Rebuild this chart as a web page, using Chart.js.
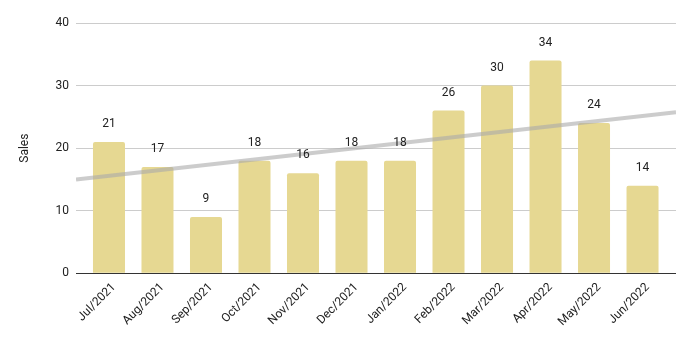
<!DOCTYPE html>
<html><head><meta charset="utf-8">
<script src="https://cdn.jsdelivr.net/npm/chart.js@4"></script>
<style>html,body{margin:0;padding:0;background:#fff}#wrap{width:693px;height:338px}</style>
</head><body><div id="wrap"><canvas id="c"></canvas></div>
<script>
const categories = ['Jul/2021','Aug/2021','Sep/2021','Oct/2021','Nov/2021','Dec/2021','Jan/2022','Feb/2022','Mar/2022','Apr/2022','May/2022','Jun/2022'];
const sales = [21,17,9,18,16,18,18,26,30,34,24,14];
const yTicks = [0,10,20,30,40];
const trendX = [-0.68, 11.69];
const trendY = [15.0, 25.75];

const labelPlugin = {
  id:'barLabels',
  afterDatasetsDraw(chart){
    const meta = chart.getDatasetMeta(0);
    const ctx = chart.ctx;
    ctx.save();
    ctx.font = '12px Roboto';
    ctx.fillStyle = '#222';
    ctx.textAlign = 'center';
    ctx.textBaseline = 'middle';
    meta.data.forEach((bar,i)=>{
      ctx.fillText(String(sales[i]), bar.x, bar.y - 18);
    });
    ctx.restore();
  }
};

new Chart(document.getElementById('c'), {
  type:'bar',
  data:{
    datasets:[
      {type:'bar', data:sales.map((v,i)=>({x:i,y:v})), backgroundColor:'#e6d892', categoryPercentage:1, barPercentage:0.66,
       borderRadius:{topLeft:2, topRight:2}, borderSkipped:'bottom', order:2},
      {type:'line', data:trendX.map((x,i)=>({x:x,y:trendY[i]})),
       borderColor:'rgba(170,170,170,0.6)', borderWidth:4, pointRadius:0, order:1, fill:false}
    ]
  },
  options:{
    responsive:true, maintainAspectRatio:false, animation:false,
    layout:{padding:{top:23,right:17,left:18,bottom:10}},
    plugins:{legend:{display:false}, tooltip:{enabled:false}},
    scales:{
      x:{type:'linear', min:trendX[0], max:trendX[1], offset:false,
         afterBuildTicks(s){s.ticks = categories.map((c,i)=>({value:i}));},
         grid:{display:false}, border:{display:false},
         ticks:{maxRotation:45, minRotation:45, autoSkip:false, color:'#222', font:{family:'Roboto', size:12}, padding:-1,
                labelOffset:5, callback:(v)=>categories[v]}},
      y:{min:0, max:40, afterBuildTicks(s){s.ticks = yTicks.map(v=>({value:v}));},
         afterFit(s){s.width = 58;},
         border:{display:false},
         grid:{color:(c)=>c.tick && c.tick.value===0 ? '#333' : '#ccc', drawTicks:false, lineWidth:1},
         ticks:{color:'#222', font:{family:'Roboto', size:12}, padding:7},
         title:{display:true, text:'Sales', color:'#222', font:{family:'Roboto', size:12}, padding:0}}
    }
  },
  plugins:[labelPlugin]
});
</script></body></html>
